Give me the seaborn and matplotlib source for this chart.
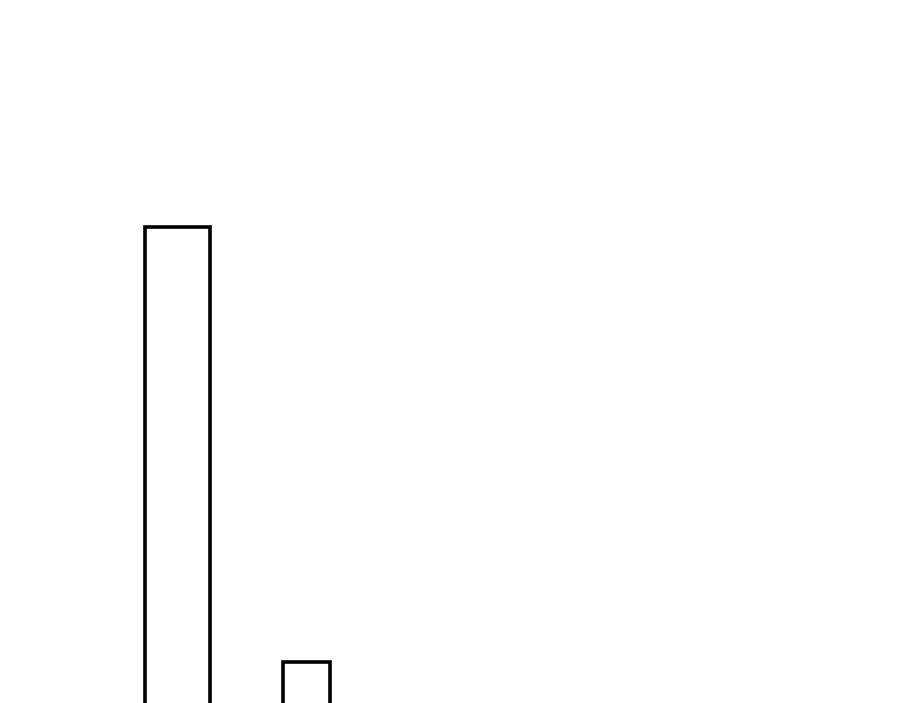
import matplotlib
matplotlib.use("Agg")
import matplotlib.pyplot as plt
import seaborn as sns
import pandas as pd

# Data
bin_edges = [144.5, 210.0, 282.7, 330.0]
bin_centers = [177.25, 246.35, 306.35]
counts = [55, 0, 10]

df = pd.DataFrame({"x": bin_centers, "count": counts})

sns.set_theme(style="white")
fig = plt.figure(figsize=(9, 7.03), dpi=100)
ax = fig.add_axes([0, 0, 1, 1])
sns.histplot(data=df, x="x", weights="count", bins=bin_edges, fill=False,
             color="black", linewidth=2.6, ax=ax)
ax.set_xlim(0, 900)
ax.set_ylim(5.76, 78.5)
ax.set_axis_off()
fig.savefig("out.png", dpi=100, facecolor="white")
